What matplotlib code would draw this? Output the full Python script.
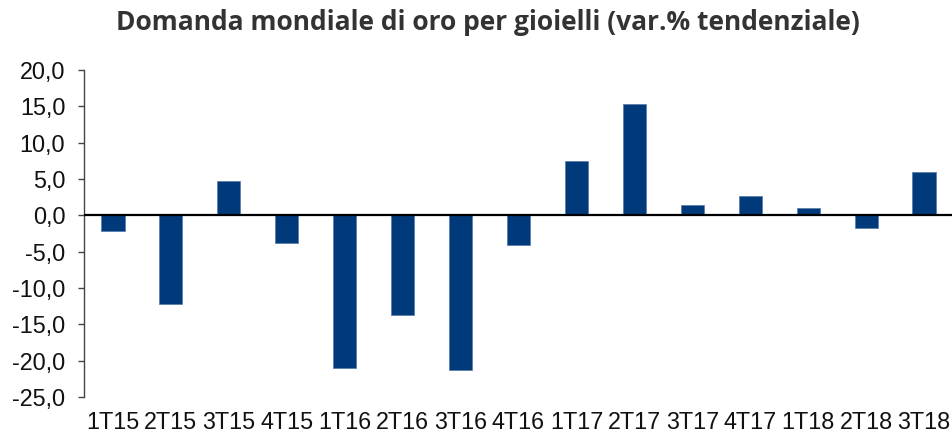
import matplotlib
matplotlib.use('Agg')
import matplotlib.pyplot as plt
from matplotlib.ticker import FuncFormatter

# Dati: variazione % tendenziale della domanda di oro per gioielli
trimestri = ['1T15', '2T15', '3T15', '4T15', '1T16', '2T16', '3T16', '4T16',
             '1T17', '2T17', '3T17', '4T17', '1T18', '2T18', '3T18']
variazione = [-2.2, -12.2, 4.7, -3.8, -21.0, -13.7, -21.3, -4.1,
              7.5, 15.3, 1.4, 2.6, 1.0, -1.8, 5.9]
y_ticks = [20, 15, 10, 5, 0, -5, -10, -15, -20, -25]

BAR_COLOR = '#003A7A'


def main():
    fig = plt.figure(figsize=(9.53, 4.34), dpi=100)
    ax = fig.add_axes([84 / 953, 37 / 434, 869 / 953, 327 / 434])

    x = range(len(trimestri))
    ax.bar(x, variazione, width=0.4, color=BAR_COLOR, edgecolor='#5d7fae', linewidth=0.6, zorder=2)
    ax.axhline(0, color='black', linewidth=1.6, zorder=3)

    ax.set_xlim(-0.5, len(trimestri) - 0.5)
    ax.set_ylim(-25, 20)
    ax.set_yticks(y_ticks)
    ax.yaxis.set_major_formatter(FuncFormatter(lambda v, p: f'{v:.1f}'.replace('.', ',')))

    ax.set_xticks(list(x))
    ax.set_xticklabels(trimestri)
    ax.tick_params(axis='x', length=0, pad=10, labelsize=16.8, labelcolor='#111111')
    ax.tick_params(axis='y', length=4.5, width=1, color='#444444', labelsize=16.8, pad=9,
                   labelcolor='#111111')
    for lab in ax.get_xticklabels() + ax.get_yticklabels():
        lab.set_fontfamily('Liberation Sans')

    for side in ['top', 'right', 'bottom']:
        ax.spines[side].set_visible(False)
    ax.spines['left'].set_color('#444444')
    ax.spines['left'].set_linewidth(1)

    fig.text(0.512, 0.949, 'Domanda mondiale di oro per gioielli (var.% tendenziale)',
             ha='center', va='center', fontsize=19, fontweight='bold',
             color='#333333', fontfamily='Open Sans')

    fig.savefig('out.png', dpi=100)


if __name__ == "__main__":
    main()
